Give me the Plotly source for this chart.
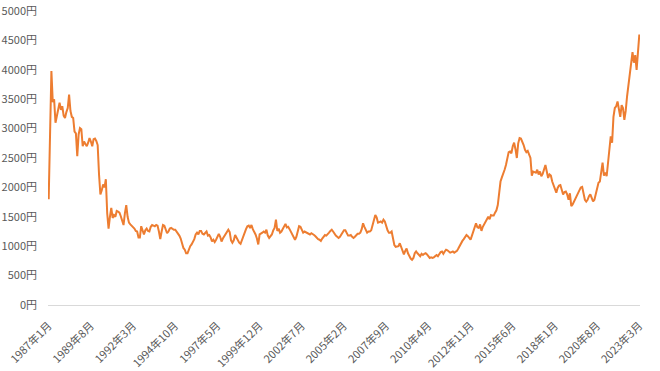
import plotly.graph_objects as go

START_YEAR = 1987
START_MONTH = 1

VALUES = [
    # 1987
    1800, 2950, 3980, 3450, 3500, 3100, 3200, 3350, 3440, 3320, 3380, 3220,
    # 1988
    3180, 3280, 3350, 3580, 3300, 3200, 3180, 2950, 2920, 2530, 2900, 3010,
    # 1989
    2990, 2700, 2780, 2740, 2700, 2760, 2840, 2780, 2700, 2820, 2830, 2790,
    # 1990
    2720, 2220, 1880, 1950, 2050, 2000, 2140, 1560, 1300, 1500, 1650, 1480,
    # 1991
    1530, 1500, 1600, 1590, 1570, 1510, 1440, 1360, 1560, 1700, 1500, 1400,
    # 1992
    1370, 1350, 1330, 1300, 1260, 1250, 1150, 1150, 1340, 1260, 1200, 1270,
    # 1993
    1300, 1260, 1250, 1330, 1360, 1350, 1340, 1360, 1350, 1250, 1120, 1250,
    # 1994
    1360, 1350, 1300, 1220, 1250, 1300, 1310, 1290, 1280, 1280, 1250, 1210,
    # 1995
    1180, 1130, 1040, 970, 940, 880, 880, 950, 1000, 1030, 1070, 1120,
    # 1996
    1200, 1230, 1200, 1260, 1260, 1210, 1200, 1220, 1250, 1180, 1190, 1150,
    # 1997
    1080, 1110, 1070, 1110, 1180, 1210, 1160, 1080, 1130, 1170, 1220, 1260,
    # 1998
    1280, 1240, 1100, 1060, 1100, 1190, 1140, 1120, 1060, 1040, 1110, 1140,
    # 1999
    1210, 1290, 1340, 1350, 1310, 1360, 1290, 1250, 1200, 1130, 1030, 1200,
    # 2000
    1210, 1230, 1250, 1230, 1280, 1180, 1140, 1170, 1200, 1270, 1310, 1450,
    # 2001
    1260, 1300, 1230, 1250, 1300, 1350, 1380, 1320, 1330, 1290, 1240, 1200,
    # 2002
    1160, 1110, 1160, 1260, 1340, 1330, 1270, 1230, 1250, 1240, 1220, 1220,
    # 2003
    1200, 1220, 1210, 1190, 1170, 1140, 1120, 1110, 1090, 1130, 1170, 1190,
    # 2004
    1180, 1200, 1230, 1260, 1280, 1250, 1210, 1180, 1160, 1140, 1160, 1190,
    # 2005
    1230, 1270, 1270, 1230, 1180, 1180, 1190, 1160, 1140, 1160, 1190, 1210,
    # 2006
    1210, 1230, 1290, 1390, 1330, 1260, 1230, 1250, 1250, 1270, 1350, 1450,
    # 2007
    1530, 1490, 1400, 1410, 1420, 1400, 1450, 1420, 1340, 1270, 1230, 1230,
    # 2008
    1250, 1130, 1020, 990, 1000, 1000, 1050, 980, 900, 860, 920, 960,
    # 2009
    880, 820, 790, 770, 800, 880, 910, 880, 850, 830, 870, 850,
    # 2010
    870, 880, 860, 830, 800, 810, 800, 810, 830, 850, 830, 870,
    # 2011
    900, 910, 870, 910, 940, 930, 910, 890, 900, 910, 890, 910,
    # 2012
    920, 960, 1010, 1040, 1090, 1120, 1170, 1190, 1170, 1130, 1110, 1180,
    # 2013
    1250, 1300, 1390, 1320, 1310, 1370, 1260, 1330, 1380, 1400, 1460, 1500,
    # 2014
    1460, 1530, 1520, 1520, 1570, 1610, 1700, 1880, 2100, 2170, 2220, 2300,
    # 2015
    2380, 2500, 2600, 2610, 2580, 2700, 2760, 2650, 2500, 2750, 2840, 2830,
    # 2016
    2780, 2720, 2640, 2600, 2620, 2560, 2500, 2200, 2270, 2260, 2250, 2300,
    # 2017
    2220, 2270, 2190, 2230, 2300, 2380, 2270, 2160, 2220, 2200, 2100, 2040,
    # 2018
    1990, 1910, 1990, 2030, 2040, 1960, 1880, 1920, 1930, 1880, 1790, 1900,
    # 2019
    1680, 1710, 1760, 1800, 1850, 1900, 1950, 2000, 2010, 1920, 1790, 1760,
    # 2020
    1790, 1850, 1880, 1820, 1760, 1790, 1900, 2020, 2080, 2100, 2250, 2420,
    # 2021
    2200, 2250, 2190, 2450, 2750, 2870, 2760, 3200, 3350, 3380, 3460, 3300,
    # 2022
    3200, 3400, 3350, 3150, 3300, 3550, 3750, 3880, 4050, 4300, 4120, 4250,
    # 2023
    4000, 4300, 4600,
]

TICK_LABELS = [
    "1987年1月", "1989年8月", "1992年3月", "1994年10月", "1997年5月",
    "1999年12月", "2002年7月", "2005年2月", "2007年9月", "2010年4月",
    "2012年11月", "2015年6月", "2018年1月", "2020年8月", "2023年3月",
]

Y_TICKS = [0, 500, 1000, 1500, 2000, 2500, 3000, 3500, 4000, 4500, 5000]

# month category labels
months = []
y, m = START_YEAR, START_MONTH
for _ in VALUES:
    months.append(f"{y}年{m}月")
    m += 1
    if m > 12:
        m = 1
        y += 1

FONT = "Noto Sans CJK JP, Noto Sans, sans-serif"
GRAY = "#595959"

fig = go.Figure(
    go.Scatter(
        x=months,
        y=VALUES,
        mode="lines",
        line=dict(color="#ED7D31", width=2),
        showlegend=False,
    )
)

fig.update_layout(
    width=660,
    height=371,
    margin=dict(l=48, r=20, t=11, b=66, autoexpand=False),
    paper_bgcolor="white",
    plot_bgcolor="white",
    font=dict(family=FONT, size=11, color=GRAY),
    xaxis=dict(
        type="category",
        tickmode="array",
        tickvals=TICK_LABELS,
        ticktext=TICK_LABELS,
        tickangle=-45,
        automargin=False,
        showgrid=False,
        zeroline=False,
        showline=True,
        linecolor="#D9D9D9",
        linewidth=1,
        ticks="",
        ticklabelstandoff=9,
        tickfont=dict(family=FONT, size=11, color=GRAY),
        range=[-0.5, len(VALUES) - 0.5],
    ),
    yaxis=dict(
        range=[0, 5000],
        tickmode="array",
        tickvals=Y_TICKS,
        ticktext=[f"{v}円" for v in Y_TICKS],
        automargin=False,
        showgrid=False,
        zeroline=False,
        showline=False,
        ticks="",
        ticklabelstandoff=10,
        tickfont=dict(family=FONT, size=11, color=GRAY),
    ),
)

# remove the default page margin so the figure sits at the window's corner
fig.write_html(
    "out.html",
    config={"displayModeBar": False},
    post_script="document.body.style.margin='0';document.body.style.overflow='hidden';",
)
